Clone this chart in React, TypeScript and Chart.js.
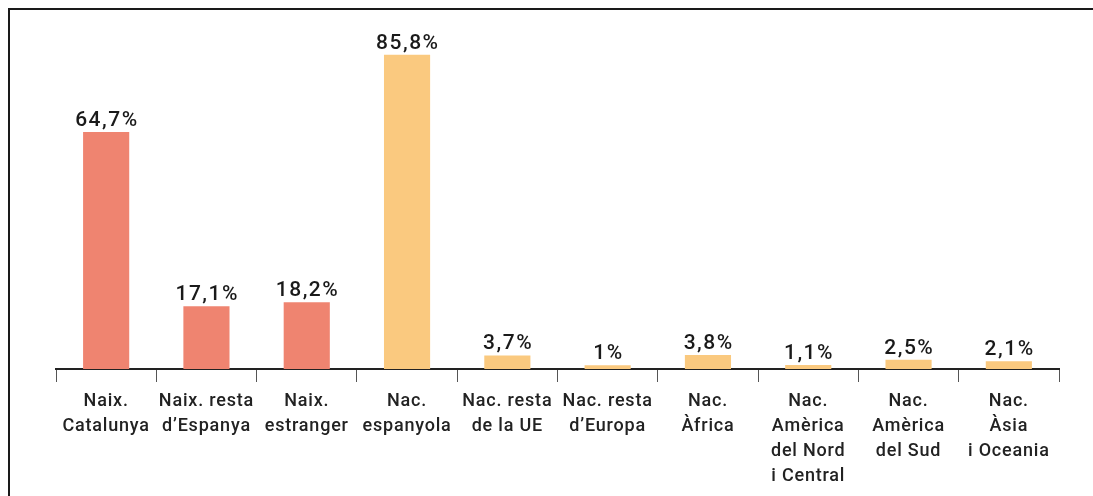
import React, { useEffect, useRef } from "react";
import { Chart, registerables } from "chart.js";

Chart.register(...registerables);

const categories: string[][] = [
  ["Naix.", "Catalunya"],
  ["Naix. resta", "d\u2019Espanya"],
  ["Naix.", "estranger"],
  ["Nac.", "espanyola"],
  ["Nac. resta", "de la UE"],
  ["Nac. resta", "d\u2019Europa"],
  ["Nac.", "\u00c0frica"],
  ["Nac.", "Am\u00e8rica", "del Nord", "i Central"],
  ["Nac.", "Am\u00e8rica", "del Sud"],
  ["Nac.", "\u00c0sia", "i Oceania"],
];
const values: number[] = [64.7, 17.1, 18.2, 85.8, 3.7, 1.0, 3.8, 1.1, 2.5, 2.1];
const valueLabels: string[] = ["64,7%", "17,1%", "18,2%", "85,8%", "3,7%", "1%", "3,8%", "1,1%", "2,5%", "2,1%"];
const RED = "#EF8470";
const YELLOW = "#FAC97F";
const barColors: string[] = [RED, RED, RED, YELLOW, YELLOW, YELLOW, YELLOW, YELLOW, YELLOW, YELLOW];

const FONT = "Roboto, 'DejaVu Sans', sans-serif";

const spacingPlugin = {
  id: "spacing",
  beforeDraw(chart: any) {
    (chart.ctx as any).letterSpacing = "0.8px";
  },
};

const valueLabelPlugin = {
  id: "valueLabels",
  afterDatasetsDraw(chart: any) {
    const ctx = chart.ctx;
    const meta = chart.getDatasetMeta(0);
    ctx.save();
    (ctx as any).letterSpacing = "1.5px";
    ctx.font = `500 21px ${FONT}`;
    ctx.fillStyle = "#1a1a1a";
    ctx.textAlign = "center";
    ctx.textBaseline = "alphabetic";
    meta.data.forEach((bar: any, i: number) => {
      ctx.fillText(valueLabels[i], bar.x + 0.75, bar.y - 6);
    });
    ctx.restore();
  },
};

export default function App() {
  const ref = useRef<HTMLCanvasElement | null>(null);
  useEffect(() => {
    if (!ref.current) return;
    const chart = new Chart(ref.current, {
      type: "bar",
      data: {
        labels: categories,
        datasets: [
          {
            data: values,
            backgroundColor: barColors,
            borderWidth: 0,
            barPercentage: 0.46,
            categoryPercentage: 1,
          },
        ],
      },
      options: {
        responsive: false,
        animation: false,
        layout: { padding: { left: 46, right: 34, top: 11, bottom: 0 } },
        plugins: { legend: { display: false }, tooltip: { enabled: false } },
        scales: {
          x: {
            afterFit: (scale: any) => {
              scale.height = 127;
            },
            grid: {
              offset: true,
              drawOnChartArea: false,
              drawTicks: true,
              tickLength: 13,
              color: "#555",
              lineWidth: 1,
            },
            border: { display: true, color: "#222", width: 2 },
            ticks: {
              autoSkip: false,
              maxRotation: 0,
              minRotation: 0,
              padding: 7,
              color: "#222",
              font: { family: FONT, size: 18, weight: 500, lineHeight: 25 / 18 },
            },
          },
          y: {
            display: false,
            min: 0,
            max: 95,
          },
        },
      },
      plugins: [spacingPlugin, valueLabelPlugin],
    });
    return () => chart.destroy();
  }, []);

  return (
    <div
      style={{
        position: "fixed",
        left: 8,
        top: 8,
        right: 0,
        bottom: 0,
        borderTop: "2px solid #1a1a1a",
        borderLeft: "2px solid #1a1a1a",
        background: "#fff",
        overflow: "hidden",
      }}
    >
      <canvas ref={ref} width={1083} height={486} style={{ display: "block", width: 1083, height: 486 }} />
    </div>
  );
}
